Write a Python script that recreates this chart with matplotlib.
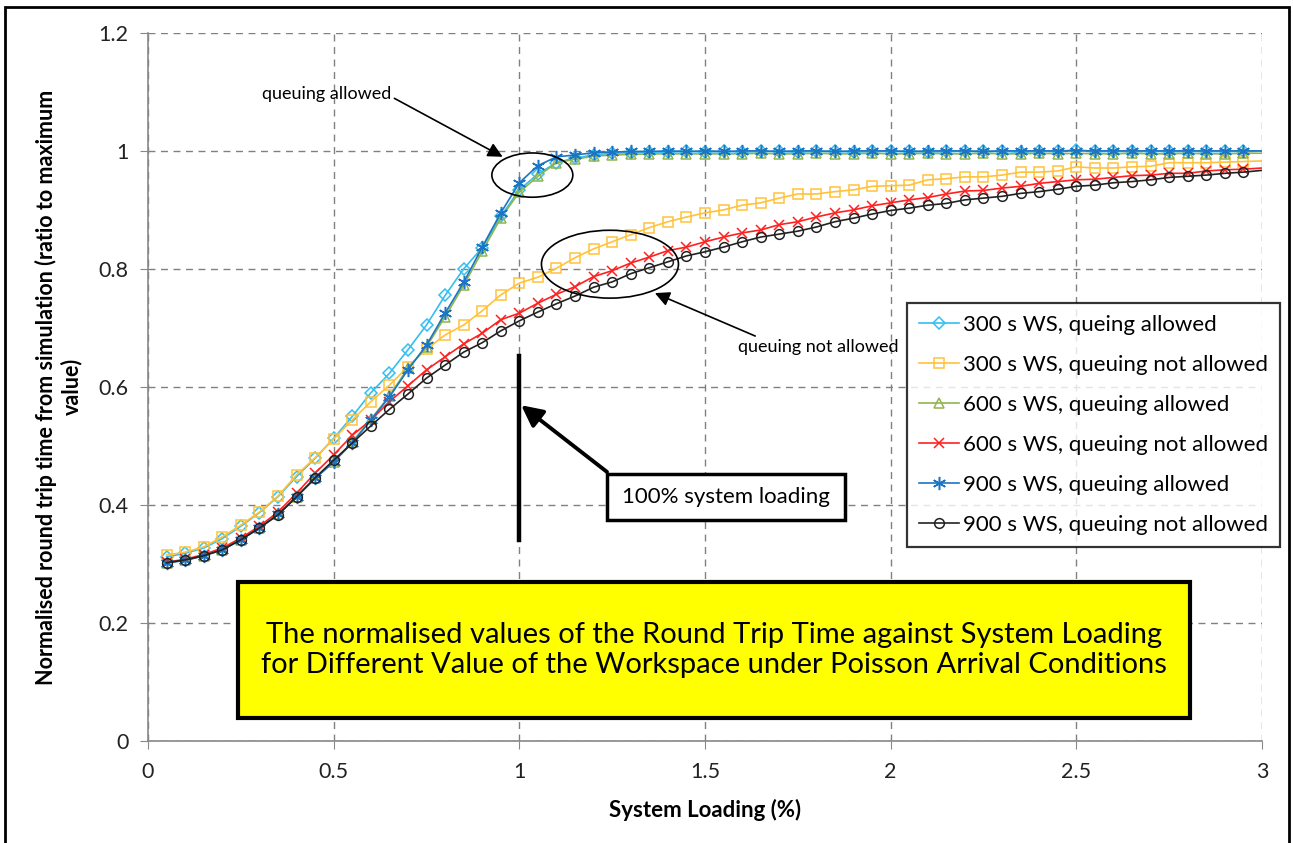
import matplotlib
matplotlib.use("Agg")
import matplotlib.pyplot as plt
from matplotlib.patches import Ellipse, Rectangle
from matplotlib.ticker import FuncFormatter, MultipleLocator

plt.rcParams['font.family'] = ['Lato', 'DejaVu Sans']

# system loading, 0.05 .. 3.00
loading = [round(0.05 * i, 2) for i in range(1, 61)]

ws300_allowed = [
    0.312, 0.318, 0.327, 0.343, 0.364, 0.387, 0.414, 0.448, 0.479, 0.513,
    0.550, 0.590, 0.623, 0.663, 0.705, 0.755, 0.800, 0.836, 0.889, 0.934,
    0.961, 0.980, 0.988, 0.993, 0.996, 0.997, 0.998, 0.998, 0.999, 0.998,
    0.999, 0.998, 0.999, 0.999, 0.998, 0.999, 0.999, 0.998, 0.999, 0.999,
    0.999, 0.998, 0.999, 0.999, 0.999, 0.999, 0.998, 0.999, 0.999, 1.002,
    0.999, 0.999, 0.999, 0.999, 0.999, 0.999, 0.999, 0.999, 0.999, 1.000]
ws300_not = [
    0.315, 0.320, 0.329, 0.346, 0.366, 0.388, 0.415, 0.451, 0.480, 0.512,
    0.544, 0.575, 0.603, 0.634, 0.664, 0.688, 0.705, 0.729, 0.756, 0.776,
    0.786, 0.801, 0.819, 0.834, 0.846, 0.858, 0.870, 0.880, 0.888, 0.895,
    0.900, 0.908, 0.912, 0.920, 0.927, 0.927, 0.931, 0.934, 0.940, 0.941,
    0.942, 0.951, 0.953, 0.956, 0.956, 0.959, 0.964, 0.964, 0.966, 0.973,
    0.971, 0.971, 0.973, 0.974, 0.980, 0.980, 0.980, 0.981, 0.982, 0.983]
ws600_allowed = [
    0.302, 0.306, 0.314, 0.324, 0.341, 0.361, 0.384, 0.414, 0.445, 0.473,
    0.507, 0.545, 0.585, 0.632, 0.668, 0.719, 0.772, 0.830, 0.886, 0.930,
    0.957, 0.980, 0.986, 0.991, 0.993, 0.994, 0.995, 0.995, 0.995, 0.995,
    0.995, 0.995, 0.996, 0.995, 0.995, 0.996, 0.995, 0.995, 0.996, 0.995,
    0.995, 0.996, 0.995, 0.995, 0.996, 0.995, 0.995, 0.996, 0.995, 0.996,
    0.995, 0.995, 0.996, 0.995, 0.995, 0.996, 0.995, 0.995, 0.996, 0.996]
ws600_not = [
    0.303, 0.308, 0.316, 0.327, 0.344, 0.364, 0.388, 0.420, 0.454, 0.485,
    0.518, 0.544, 0.575, 0.602, 0.629, 0.651, 0.673, 0.691, 0.714, 0.725,
    0.742, 0.757, 0.770, 0.787, 0.797, 0.810, 0.820, 0.831, 0.837, 0.846,
    0.854, 0.861, 0.866, 0.875, 0.880, 0.888, 0.895, 0.900, 0.907, 0.912,
    0.917, 0.921, 0.927, 0.932, 0.933, 0.937, 0.940, 0.945, 0.948, 0.951,
    0.952, 0.955, 0.958, 0.959, 0.962, 0.962, 0.966, 0.968, 0.969, 0.971]
ws900_allowed = [
    0.302, 0.306, 0.314, 0.324, 0.341, 0.361, 0.384, 0.414, 0.445, 0.473,
    0.505, 0.544, 0.583, 0.629, 0.671, 0.725, 0.777, 0.837, 0.895, 0.946,
    0.975, 0.990, 0.993, 0.997, 0.998, 0.999, 0.999, 1.000, 0.999, 1.000,
    0.999, 1.000, 1.000, 0.999, 1.000, 1.000, 0.999, 1.000, 1.000, 1.000,
    0.999, 1.000, 1.000, 1.000, 0.999, 1.000, 1.000, 1.000, 1.000, 1.000,
    1.000, 1.000, 1.000, 1.000, 1.000, 1.000, 1.000, 1.000, 1.000, 1.000]
ws900_not = [
    0.302, 0.307, 0.314, 0.324, 0.341, 0.361, 0.383, 0.414, 0.446, 0.476,
    0.505, 0.534, 0.562, 0.588, 0.615, 0.637, 0.659, 0.675, 0.695, 0.712,
    0.727, 0.741, 0.754, 0.769, 0.778, 0.792, 0.802, 0.812, 0.822, 0.829,
    0.837, 0.846, 0.854, 0.859, 0.864, 0.871, 0.880, 0.886, 0.893, 0.899,
    0.903, 0.908, 0.911, 0.917, 0.920, 0.923, 0.928, 0.931, 0.935, 0.940,
    0.942, 0.946, 0.948, 0.951, 0.955, 0.957, 0.959, 0.962, 0.964, 0.967]

labels = ['300 s WS, queing allowed', '300 s WS, queuing not allowed',
          '600 s WS, queuing allowed', '600 s WS, queuing not allowed',
          '900 s WS, queuing allowed', '900 s WS, queuing not allowed']

fig = plt.figure(figsize=(12.93, 8.43), dpi=100)
ax = fig.add_axes([0.1145, 0.121, 0.8615, 0.840])

series = [
    (ws300_allowed, '#33BFF0', 'D', 6),
    (ws300_not, '#FFC23A', 's', 7),
    (ws600_allowed, '#8FB54F', '^', 7),
    (ws600_not, '#FF2020', 'x', 7.5),
    (ws900_allowed, '#1C74C4', (6, 2, 0), 9.5),
    (ws900_not, '#222222', 'o', 7),
]
mk = slice(0, len(loading) - 1)   # last point has no marker
for (vals, col, m, ms), lab in zip(series, labels):
    ax.plot(loading, vals, color=col, lw=1.2, marker=m, ms=ms,
            mfc='none', mec=col, mew=1.1, markevery=mk, label=lab)

ax.set_xlim(0, 3)
ax.set_ylim(0, 1.2)
ax.xaxis.set_major_locator(MultipleLocator(0.5))
ax.yaxis.set_major_locator(MultipleLocator(0.2))
fmt = FuncFormatter(lambda v, p: '%g' % round(v, 2))
ax.xaxis.set_major_formatter(fmt)
ax.yaxis.set_major_formatter(fmt)
ax.grid(True, ls=(0, (5, 4)), color='#808080', lw=1)
ax.set_axisbelow(True)
for s in ['top', 'right']:
    ax.spines[s].set_visible(False)
for s in ['left', 'bottom']:
    ax.spines[s].set_color('#888888')
    ax.spines[s].set_linewidth(1.2)
ax.tick_params(axis='both', labelsize=15.5, color='#888888', length=6,
               labelcolor='#222222')
ax.tick_params(axis='x', pad=9)
ax.tick_params(axis='y', pad=8)

ax.set_xlabel('System Loading (%)', fontsize=16, fontweight='bold', labelpad=12)
ax.set_ylabel('Normalised round trip time from simulation (ratio to maximum\nvalue)',
              fontsize=15.5, fontweight='bold', labelpad=12, linespacing=1.15)

leg = ax.legend(loc='upper right', bbox_to_anchor=(1280 / 1293, 1 - 303 / 843),
                bbox_transform=fig.transFigure, fontsize=16, frameon=True,
                fancybox=False, edgecolor='black', borderaxespad=0,
                handlelength=1.8, handletextpad=0.15, labelspacing=0.9,
                borderpad=0.55)
leg.get_frame().set_linewidth(1.6)
leg.set_zorder(5)

# annotations
ax.add_patch(Ellipse((1.035, 0.959), 0.218, 0.075, fill=False, ec='black', lw=1.2, zorder=4))
ax.add_patch(Ellipse((1.244, 0.808), 0.369, 0.115, fill=False, ec='black', lw=1.2, zorder=4))
ax.annotate('queuing allowed', xy=(0.955, 0.99), xytext=(0.482, 1.097),
            fontsize=13, ha='center', va='center',
            arrowprops=dict(arrowstyle='-|>', color='black', lw=1.2,
                            mutation_scale=22, shrinkA=0, shrinkB=0,
                            relpos=(1.0, 0.3)))
ax.annotate('queuing not allowed', xy=(1.365, 0.759), xytext=(1.804, 0.668),
            fontsize=13, ha='center', va='center',
            arrowprops=dict(arrowstyle='-|>', color='black', lw=1.2,
                            mutation_scale=22, shrinkA=0, shrinkB=0,
                            relpos=(0.15, 1.0)))

ax.plot([1.0, 1.0], [0.34, 0.653], color='black', lw=3.2, zorder=4)
ax.annotate('', xy=(1.005, 0.569), xytext=(1.236, 0.456),
            arrowprops=dict(arrowstyle='-|>', color='black', lw=2.8,
                            mutation_scale=32, shrinkA=0, shrinkB=0))
ax.add_patch(Rectangle((0.412, 0.312), 0.2137, 0.065, transform=ax.transAxes,
                       fc='white', ec='black', lw=2.5, zorder=6))
ax.text(0.519, 0.345, '100% system loading', transform=ax.transAxes,
        fontsize=16, ha='center', va='center', zorder=7)

ax.add_patch(Rectangle((0.0808, 0.0325), 0.8546, 0.192, transform=ax.transAxes,
                       fc='#FFFF00', ec='black', lw=3, zorder=6))
ax.text(0.508, 0.1285, 'The normalised values of the Round Trip Time against System Loading\n'
        'for Different Value of the Workspace under Poisson Arrival Conditions',
        transform=ax.transAxes, fontsize=21, ha='center', va='center',
        linespacing=1.15, zorder=7)

# outer frame
fig.patches.append(Rectangle((0.004, -0.01), 0.993, 1.002, transform=fig.transFigure,
                             fill=False, ec='black', lw=2))

fig.savefig('out.png', dpi=100)
